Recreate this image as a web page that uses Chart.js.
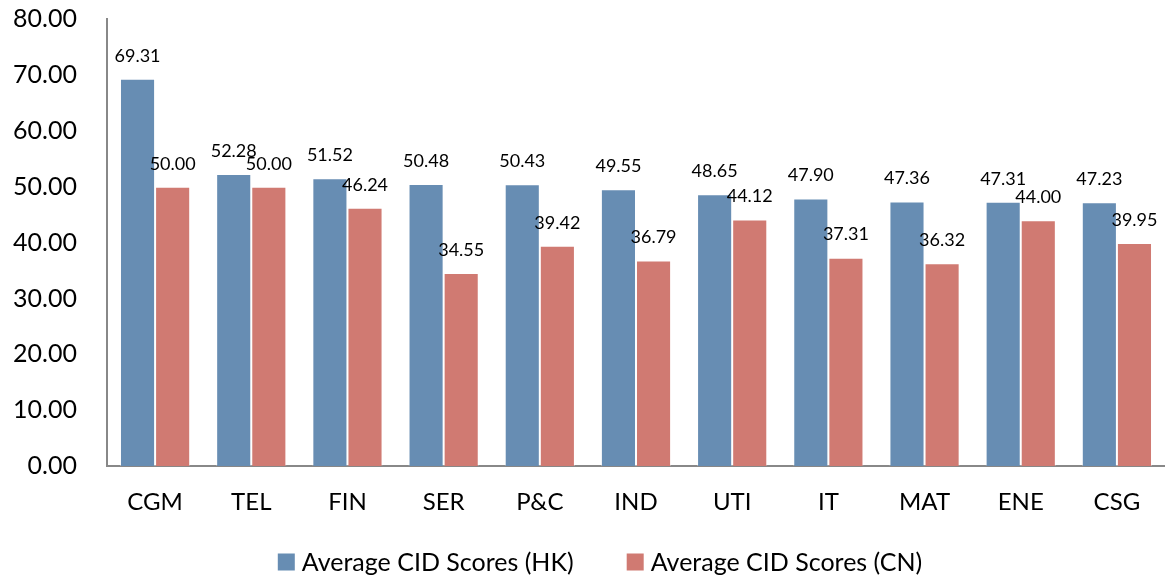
<!DOCTYPE html>
<html>
<head>
<meta charset="utf-8">
<script src="https://cdn.jsdelivr.net/npm/chart.js@4/dist/chart.umd.min.js"></script>
<style>
  html, body { margin: 0; padding: 0; background: #fff; overflow: hidden; }
  #wrap { width: 1165px; height: 603px; position: relative; top: -26px; }
</style>
</head>
<body>
<div id="wrap"><canvas id="myChart"></canvas></div>
<script>
const categories = ["CGM", "TEL", "FIN", "SER", "P&C", "IND", "UTI", "IT", "MAT", "ENE", "CSG"];
const hkScores = [69.31, 52.28, 51.52, 50.48, 50.43, 49.55, 48.65, 47.90, 47.36, 47.31, 47.23];
const cnScores = [50.00, 50.00, 46.24, 34.55, 39.42, 36.79, 44.12, 37.31, 36.32, 44.00, 39.95];
const seriesNames = ["Average CID Scores (HK)", "Average CID Scores (CN)"];

const fontFamily = "Lato, 'Open Sans', sans-serif";

// draws the value above each bar, like excel "outside end" labels
const valueLabels = {
    id: "valueLabels",
    afterDatasetsDraw(chart) {
        const ctx = chart.ctx;
        ctx.save();
        ctx.font = "18px " + fontFamily;
        ctx.fillStyle = "#000";
        ctx.textAlign = "center";
        ctx.textBaseline = "middle";
        chart.data.datasets.forEach((ds, i) => {
            const meta = chart.getDatasetMeta(i);
            meta.data.forEach((bar, j) => {
                ctx.fillText(ds.data[j].toFixed(2), bar.x, bar.y - 23);
            });
        });
        ctx.restore();
    }
};

// excel style legend, wider gap between the two items than chart.js gives
const bottomLegend = {
    id: "bottomLegend",
    afterDraw(chart) {
        const ctx = chart.ctx;
        const box = 17, gap = 7, itemGap = 53;
        const y = chart.height - 15;
        ctx.save();
        ctx.font = "25px " + fontFamily;
        ctx.textBaseline = "middle";
        ctx.textAlign = "left";
        const widths = chart.data.datasets.map(ds => box + gap + ctx.measureText(ds.label).width);
        const total = widths.reduce((a, b) => a + b, 0) + itemGap * (widths.length - 1);
        let x = 600 - total / 2;
        chart.data.datasets.forEach((ds, i) => {
            ctx.fillStyle = ds.backgroundColor;
            ctx.fillRect(x, y - box / 2, box, box);
            ctx.fillStyle = "#000";
            ctx.fillText(ds.label, x + box + gap, y + 1);
            x += widths[i] + itemGap;
        });
        ctx.restore();
    }
};

const chartData = {
    labels: categories,
    datasets: [{
        label: seriesNames[0],
        data: hkScores,
        backgroundColor: "#678db3",
        borderColor: "rgba(255,255,255,0.35)",
        borderWidth: 1
    }, {
        label: seriesNames[1],
        data: cnScores,
        backgroundColor: "#d07a72",
        borderColor: "rgba(255,255,255,0.35)",
        borderWidth: 1
    }]
};

const chartConfig = {
    type: "bar",
    data: chartData,
    plugins: [valueLabels, bottomLegend],
    options: {
        responsive: true,
        maintainAspectRatio: false,
        animation: false,
        layout: { padding: { top: 0, right: 0, left: 0, bottom: 38 } },
        datasets: {
            bar: { categoryPercentage: 0.73, barPercentage: 1.0 }
        },
        plugins: {
            tooltip: { enabled: false },
            legend: { display: false }
        },
        scales: {
            x: {
                grid: { display: false, drawTicks: false },
                border: { color: "#888", width: 2 },
                ticks: {
                    color: "#000",
                    font: { family: fontFamily, size: 24 },
                    padding: 22
                }
            },
            y: {
                min: 0,
                max: 80,
                grid: { display: false, drawTicks: false },
                border: { color: "#888", width: 2 },
                afterFit(scale) { scale.width = 107; },
                ticks: {
                    stepSize: 10,
                    color: "#000",
                    font: { family: fontFamily, size: 25 },
                    padding: 30,
                    callback: v => v.toFixed(2)
                }
            }
        }
    }
};

const myChart = new Chart(document.getElementById("myChart"), chartConfig);
</script>
</body>
</html>
